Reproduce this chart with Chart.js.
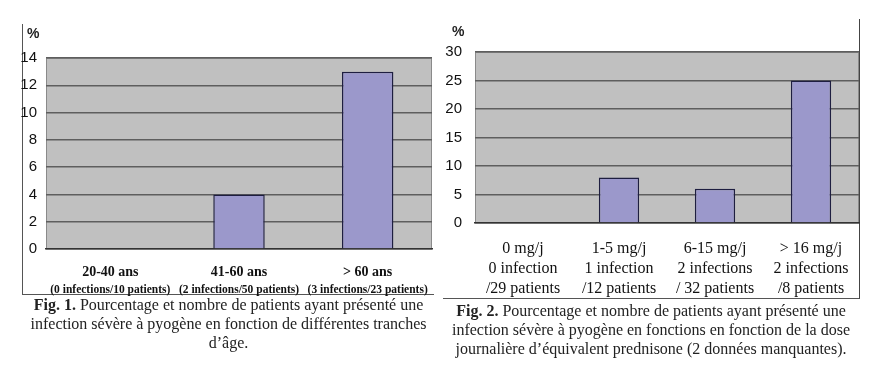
<!DOCTYPE html>
<html>
<head>
<meta charset="utf-8">
<script src="https://cdn.jsdelivr.net/npm/chart.js@4/dist/chart.umd.min.js"></script>
<style>
  html, body { margin:0; padding:0; background:#fff; }
  #page { position:relative; width:883px; height:377px; overflow:hidden; background:#fff; }
  canvas { position:absolute; }
  .frame1 { position:absolute; left:22px; top:24px; width:411px; height:270px; border-left:1px solid #555; border-bottom:1px solid #555; }
  .frame2 { position:absolute; left:443px; top:19px; width:416px; height:279px; border-right:1.5px solid #444; border-bottom:1px solid #555; }
  .pct { position:absolute; font-family:"Liberation Sans", Arial, sans-serif; font-size:14px; font-weight:bold; color:#222; }
  .cap { position:absolute; font-family:"Liberation Serif", "Times New Roman", serif; font-size:16px; line-height:19px; color:#222; text-align:center; white-space:nowrap; }
  .cap b { font-weight:bold; }
</style>
</head>
<body>
<div id="page">
  <div class="frame1"></div>
  <div class="frame2"></div>
  <canvas id="c1" width="440" height="300" style="left:0;top:0"></canvas>
  <canvas id="c2" width="443" height="300" style="left:440px;top:0"></canvas>
  <div class="pct" style="left:27px;top:25px;">%</div>
  <div class="pct" style="left:452px;top:23px;">%</div>
  <div class="cap" style="left:22px;top:295px;width:413px;"><b>Fig. 1.</b> Pourcentage et nombre de patients ayant présenté une<br>infection sévère à pyogène en fonction de différentes tranches<br>d’âge.</div>
  <div class="cap" style="left:443px;top:301px;width:416px;"><b>Fig. 2.</b> Pourcentage et nombre de patients ayant présenté une<br>infection sévère à pyogène en fonctions en fonction de la dose<br>journalière d’équivalent prednisone (2 données manquantes).</div>
</div>
<script>
// ---- Data ----
const ageCategories = ["20-40 ans", "41-60 ans", "> 60 ans"];
const ageSubLabels = ["(0 infections/10 patients)", "(2 infections/50 patients)", "(3 infections/23 patients)"];
const ageValues = [0, 4, 13];
const ageTicks = { min: 0, max: 14, step: 2 };

const doseCategories = [
  ["0 mg/j", "0 infection", "/29 patients"],
  ["1-5 mg/j", "1 infection", "/12 patients"],
  ["6-15 mg/j", "2 infections", "/ 32 patients"],
  ["> 16 mg/j", "2 infections", "/8 patients"]
];
const doseValues = [0, 8, 6, 25];
const doseTicks = { min: 0, max: 30, step: 5 };

// ---- Styles ----
const plotBg = '#c0c0c0';
const gridColor = '#5e5e5e';
const barFill = '#9b98cb';
const barBorder = '#1e1e40';

const plotBgPlugin = {
  id: 'plotBg',
  beforeDraw(chart) {
    const a = chart.chartArea, ctx = chart.ctx;
    ctx.save();
    ctx.fillStyle = plotBg;
    ctx.fillRect(a.left, a.top, a.right - a.left, a.bottom - a.top);
    ctx.strokeStyle = '#8a8a8a';
    ctx.lineWidth = 1;
    ctx.strokeRect(a.left + 0.5, a.top + 0.5, a.right - a.left - 1, a.bottom - a.top - 1);
    ctx.restore();
  }
};

const yFont = { family: '"Liberation Sans", Arial, sans-serif', size: 15 };

// ---- Chart 1 ----
new Chart(document.getElementById('c1'), {
  type: 'bar',
  data: {
    labels: ageCategories,
    datasets: [{
      data: ageValues,
      backgroundColor: barFill,
      borderColor: barBorder,
      borderWidth: 1.5,
      categoryPercentage: 1,
      barPercentage: 0.4
    }]
  },
  plugins: [plotBgPlugin],
  options: {
    responsive: false,
    devicePixelRatio: 1,
    animation: false,
    layout: { padding: { left: 0, right: 8, top: 58, bottom: 1 } },
    plugins: { legend: { display: false }, tooltip: { enabled: false } },
    scales: {
      x: {
        grid: { display: false, drawTicks: false },
        border: { display: true, color: '#333', width: 1.5 },
        ticks: {
          color: '#111', maxRotation: 0, autoSkip: false, padding: 15,
          font: { family: '"Liberation Serif", "Times New Roman", serif', size: 14, weight: 'bold' }
        },
        afterFit(s) { s.height = 34; }
      },
      x2: {
        type: 'category',
        labels: ageSubLabels,
        position: 'bottom',
        grid: { display: false, drawTicks: false },
        border: { display: false },
        ticks: {
          color: '#111', maxRotation: 0, autoSkip: false, padding: 0,
          font: { family: '"Liberation Serif", "Times New Roman", serif', size: 11.5, weight: 'bold' }
        },
        afterFit(s) { s.height = 16; }
      },
      y: {
        min: ageTicks.min, max: ageTicks.max,
        ticks: { stepSize: ageTicks.step, color: '#111', padding: 9, font: yFont },
        grid: { color: gridColor, lineWidth: 1.5, drawTicks: false },
        border: { display: false },
        afterFit(s) { s.width = 46; }
      }
    }
  }
});

// ---- Chart 2 ----
new Chart(document.getElementById('c2'), {
  type: 'bar',
  data: {
    labels: doseCategories,
    datasets: [{
      data: doseValues,
      backgroundColor: barFill,
      borderColor: barBorder,
      borderWidth: 1.5,
      categoryPercentage: 1,
      barPercentage: 0.42
    }]
  },
  plugins: [plotBgPlugin],
  options: {
    responsive: false,
    devicePixelRatio: 1,
    animation: false,
    layout: { padding: { left: 0, right: 24, top: 52, bottom: 0 } },
    plugins: { legend: { display: false }, tooltip: { enabled: false } },
    scales: {
      x: {
        grid: { display: false, drawTicks: false },
        border: { display: true, color: '#333', width: 1.5 },
        ticks: {
          color: '#111', maxRotation: 0, autoSkip: false, padding: 16,
          font: { family: '"Liberation Serif", "Times New Roman", serif', size: 16, lineHeight: 1.25 }
        },
        afterFit(s) { s.height = 77; }
      },
      y: {
        min: doseTicks.min, max: doseTicks.max,
        ticks: { stepSize: doseTicks.step, color: '#111', padding: 13, font: yFont },
        grid: { color: gridColor, lineWidth: 1.5, drawTicks: false },
        border: { display: false },
        afterFit(s) { s.width = 35; }
      }
    }
  }
});
</script>
</body>
</html>
